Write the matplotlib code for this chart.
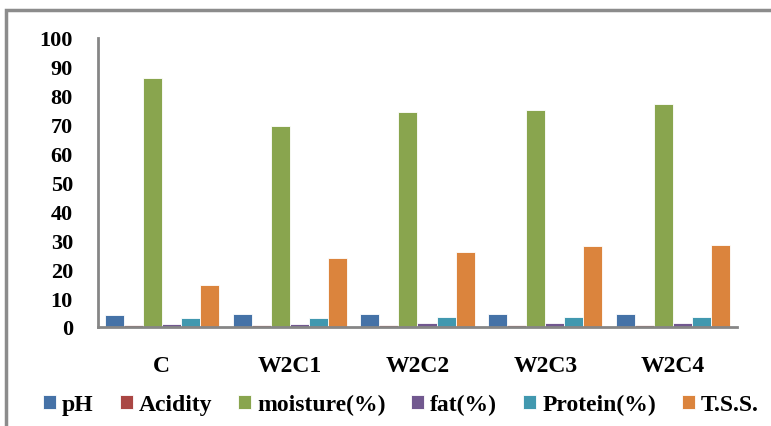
import numpy as np
import matplotlib.pyplot as plt
from matplotlib.patches import Rectangle

samples = ['C', 'W2C1', 'W2C2', 'W2C3', 'W2C4']
series = ['pH', 'Acidity', 'moisture(%)', 'fat(%)', 'Protein(%)', 'T.S.S.']
ph = [4.3, 4.4, 4.5, 4.5, 4.6]
acidity = [0.8, 0.8, 0.8, 0.7, 0.6]
moisture = [86.0, 69.5, 74.2, 75.0, 77.2]
fat = [1.0, 1.0, 1.2, 1.3, 1.4]
protein = [3.0, 3.1, 3.3, 3.4, 3.4]
tss = [14.5, 24.0, 26.0, 28.0, 28.2]
colors = ['#4572A7', '#AA4643', '#89A54E', '#71588F', '#4198AF', '#DB843D']

values = [ph, acidity, moisture, fat, protein, tss]
serif = 'Liberation Serif'

fig = plt.figure(figsize=(7.71, 4.27), dpi=100)
ax = fig.add_axes([0.127, 0.232, 0.829, 0.677])

# outer chart border (partly cut off in the original)
fig.patches.append(Rectangle((0.0075, -0.1), 1.1, 1.074, transform=fig.transFigure,
                             fill=False, edgecolor='#8c8c8c', linewidth=2.5))

x = np.arange(len(samples))
w = 0.149
for i, (name, vals) in enumerate(zip(series, values)):
    ax.bar(x + (i - 2.5) * w, vals, w, color=colors[i], label=name,
           edgecolor='white', linewidth=0.6)

ax.set_xlim(-0.5, len(samples) - 0.5)
ax.set_ylim(0, 100)
ax.set_yticks(range(0, 101, 10))
ax.set_xticks(x)
ax.set_xticklabels(samples, fontfamily=serif, fontweight='bold', fontsize=17)
for lab in ax.get_yticklabels():
    lab.set_fontfamily(serif)
    lab.set_fontweight('bold')
    lab.set_fontsize(16)
ax.tick_params(axis='y', length=0, pad=18)
ax.tick_params(axis='x', length=0, pad=20)
for s in ['top', 'right']:
    ax.spines[s].set_visible(False)
for s in ['left', 'bottom']:
    ax.spines[s].set_color('#868686')
    ax.spines[s].set_linewidth(2)

fig.legend(loc='lower center', bbox_to_anchor=(0.52, -0.025), ncol=6, frameon=False,
           prop={'family': serif, 'weight': 'bold', 'size': 17},
           handlelength=0.55, handleheight=0.55, handletextpad=0.25, columnspacing=1.1)

fig.savefig('out.png', dpi=100)
